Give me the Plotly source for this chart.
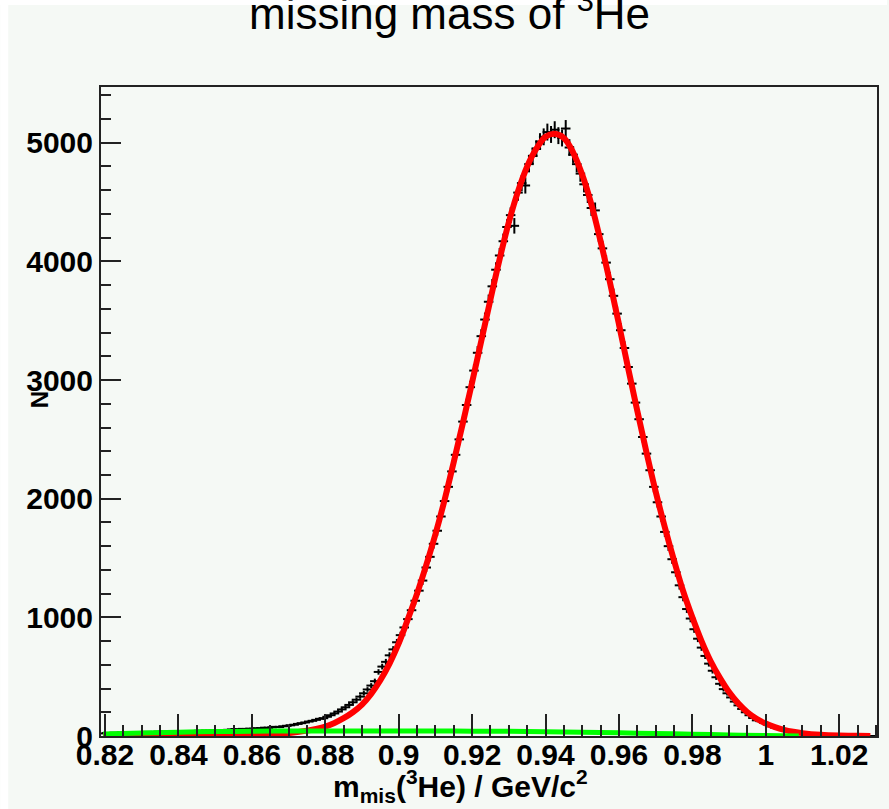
import numpy as np
import plotly.graph_objects as go

# ---------------- data ----------------
bin_start = 0.8195
bin_width = 0.001
counts = [
    22, 25, 19, 28, 24, 30, 27, 26, 33, 29,
    31, 28, 35, 30, 33, 37, 32, 36, 34, 38,
    35, 40, 37, 42, 39, 41, 44, 40, 46, 43,
    47, 45, 50, 48, 52, 55, 58, 51, 60, 57,
    62, 59, 66, 64, 70, 68, 73, 77, 75, 82,
    86, 90, 95, 102, 108, 114, 122, 128, 136, 145,
    150, 162, 175, 190, 206, 224, 242, 262, 284, 306,
    332, 360, 392, 425, 462, 540, 585, 625, 680, 730,
    790, 850, 915, 985, 1060, 1140, 1225, 1310, 1420, 1510,
    1620, 1730, 1850, 1980, 2100, 2230, 2370, 2500, 2650, 2790,
    2940, 3080, 3230, 3370, 3510, 3660, 3790, 3930, 4050, 4170,
    4290, 4390, 4300, 4580, 4660, 4640, 4820, 4890, 4950, 5010,
    5050, 5090, 5070, 5110, 5060, 5040, 5120, 4960, 4900, 4820,
    4740, 4650, 4560, 4450, 4430, 4230, 4110, 3990, 3850, 3710,
    3560, 3420, 3270, 3110, 2970, 2810, 2670, 2520, 2380, 2240,
    2100, 1970, 1850, 1720, 1600, 1490, 1380, 1270, 1170, 1070,
    990, 900, 820, 745, 675, 610, 550, 495, 440, 395,
    360, 325, 290, 258, 228, 200, 175, 152, 132, 125,
    110, 96, 82, 70, 60, 51, 43, 36, 30, 25,
    20, 16, 13, 10, 8, 6, 5, 4, 3, 3,
    2, 2, 1, 1, 1, 1, 0, 1, 0, 0, 0,
]
bin_centers = [round(bin_start + i * bin_width, 4) for i in range(len(counts))]

fit_x = [0.8195, 0.830, 0.840, 0.850, 0.860, 0.865, 0.870, 0.875, 0.880, 0.8825,
         0.885, 0.8875, 0.890, 0.8925, 0.895, 0.8975, 0.900, 0.9025, 0.905, 0.9075,
         0.910, 0.9125, 0.915, 0.9175, 0.920, 0.9225, 0.925, 0.9275, 0.930, 0.9325,
         0.935, 0.9375, 0.940, 0.9425, 0.945, 0.9475, 0.950, 0.9525, 0.955, 0.9575,
         0.960, 0.9625, 0.965, 0.9675, 0.970, 0.9725, 0.975, 0.9775, 0.980, 0.9825,
         0.985, 0.9875, 0.990, 0.9925, 0.995, 0.9975, 1.000, 1.0025, 1.005, 1.0075,
         1.010, 1.015, 1.020, 1.025, 1.0285]
fit_y = [1, 2, 3, 5, 9, 14, 24, 45, 80, 110,
         150, 200, 265, 355, 470, 610, 780, 985, 1200, 1440,
         1700, 1990, 2310, 2640, 2980, 3330, 3680, 4020, 4330, 4590,
         4800, 4950, 5050, 5075, 5040, 4920, 4730, 4480, 4170, 3830,
         3470, 3100, 2740, 2390, 2060, 1760, 1480, 1220, 1000, 800,
         630, 490, 370, 275, 200, 145, 105, 75, 52, 36,
         24, 10, 4, 2, 1]

bkg_x = [0.8195, 0.830, 0.840, 0.850, 0.860, 0.870, 0.880, 0.890, 0.900, 0.910,
         0.920, 0.930, 0.940, 0.950, 0.960, 0.970, 0.980, 0.990, 1.000, 1.009]
bkg_y = [16, 26, 32, 37, 40, 42, 43, 43, 43, 42,
         41, 39, 36, 32, 27, 21, 15, 9, 4, 1]

x_tickvals = [0.82, 0.84, 0.86, 0.88, 0.90, 0.92, 0.94, 0.96, 0.98, 1.00, 1.02]
x_ticktext = ["0.82", "0.84", "0.86", "0.88", "0.9", "0.92", "0.94", "0.96", "0.98", "1", "1.02"]
y_tickvals = [0, 1000, 2000, 3000, 4000, 5000]
y_ticktext = ["0", "1000", "2000", "3000", "4000", "5000"]

title_text = "missing mass of <sup>3</sup>He"
x_title = "m<sub>mis</sub>(<sup>3</sup>He) / GeV/c<sup>2</sup>"
y_title = "N"

# ---------------- layout constants ----------------
W, H = 889, 809
L, R, T, B = 101, 10, 87, 73
PW, PH = W - L - R, H - T - B
BG = "#f5f9f5"
FONT = "Liberation Sans"


def px_to_paper_x(px):
    return (px - L) / PW


def px_to_paper_y(py):
    return (H - B - py) / PH


errs = [float(np.sqrt(c)) for c in counts]

fig = go.Figure()
fig.add_trace(go.Scatter(
    x=bin_centers, y=counts, mode="markers",
    marker=dict(size=1, color="black"),
    error_y=dict(type="data", array=errs, visible=True, color="black", thickness=2, width=0),
    error_x=dict(type="constant", value=0.0013, visible=True, color="black", thickness=2, width=0),
    showlegend=False, hoverinfo="skip",
))
fig.add_trace(go.Scatter(
    x=fit_x, y=fit_y, mode="lines", line=dict(color="#ff0000", width=6, shape="spline"),
    showlegend=False, hoverinfo="skip",
))
fig.add_trace(go.Scatter(
    x=bkg_x, y=bkg_y, mode="lines", line=dict(color="#00ff00", width=5, shape="spline"),
    showlegend=False, hoverinfo="skip",
))

axis_common = dict(
    showgrid=False, zeroline=False, showline=True, mirror=True,
    linecolor="#222222", linewidth=2, ticks="inside", tickcolor="#222222",
    tickwidth=1.5, tickfont=dict(family=FONT, size=30, color="black", weight="bold"),
)

fig.update_layout(
    width=W, height=H,
    margin=dict(l=L, r=R, t=T, b=B, pad=0),
    paper_bgcolor=BG, plot_bgcolor=BG,
    xaxis=dict(
        range=[0.8189, 1.0303], tickmode="array", tickvals=x_tickvals, ticktext=x_ticktext,
        ticklen=22, ticklabelstandoff=-9,
        minor=dict(ticks="inside", dtick=0.005, tick0=0.82, ticklen=11, tickcolor="#222222", tickwidth=1.5),
        **axis_common,
    ),
    yaxis=dict(
        range=[0, 5470], tickmode="array", tickvals=y_tickvals, ticktext=y_ticktext,
        ticklen=20,
        minor=dict(ticks="inside", dtick=200, tick0=0, ticklen=10, tickcolor="#222222", tickwidth=1.5),
        **axis_common,
    ),
    shapes=[
        dict(type="rect", xref="paper", yref="paper", layer="below",
             x0=px_to_paper_x(0), x1=px_to_paper_x(8), y0=px_to_paper_y(H), y1=px_to_paper_y(0),
             fillcolor="white", line=dict(width=0)),
        dict(type="rect", xref="paper", yref="paper", layer="below",
             x0=px_to_paper_x(0), x1=px_to_paper_x(W), y0=px_to_paper_y(5), y1=px_to_paper_y(0),
             fillcolor="white", line=dict(width=0)),
    ],
    annotations=[
        dict(text=title_text, xref="paper", yref="paper", x=px_to_paper_x(450), y=px_to_paper_y(10),
             xanchor="center", yanchor="middle", showarrow=False,
             font=dict(family=FONT, size=44, color="black")),
        dict(text=x_title, xref="paper", yref="paper", x=px_to_paper_x(461), y=px_to_paper_y(786),
             xanchor="center", yanchor="middle", showarrow=False,
             font=dict(family=FONT, size=30, color="black", weight="bold")),
        dict(text=y_title, xref="paper", yref="paper", x=px_to_paper_x(39), y=px_to_paper_y(400),
             xanchor="center", yanchor="middle", showarrow=False, textangle=-90,
             font=dict(family=FONT, size=24, color="black", weight="bold")),
    ],
)

fig.write_html("out.html")
